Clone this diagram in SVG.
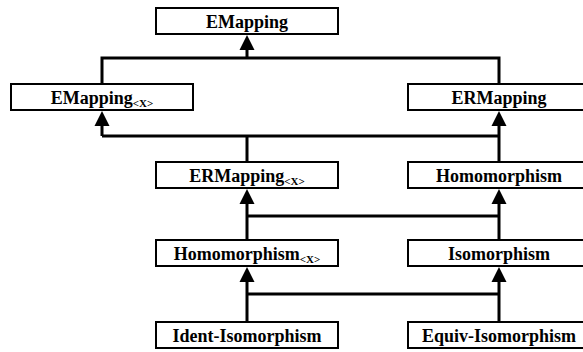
<svg xmlns="http://www.w3.org/2000/svg" width="583" height="352" viewBox="0 0 583 352">
<style>
.box{fill:#fff;stroke:#000;stroke-width:2}
.lbl{font-family:'Liberation Serif',serif;font-weight:700;font-size:18px;text-anchor:middle;fill:#000}
.sub{font-size:11px}
.ln{fill:none;stroke:#000;stroke-width:3}
.ah{fill:#000;stroke:none}
</style>
<rect width="583" height="352" fill="#fff"/>
<g id="connectors">
<path class="ln" d="M102 84 V58 H499 V84 M247 58 V49"/>
<polygon class="ah" points="247,35 239.5,50 254.5,50"/>
<path class="ln" d="M247 162 V136 M102 136 H499 M102 136 V124 M499 162 V124"/>
<polygon class="ah" points="102,111 94.5,126 109.5,126"/>
<polygon class="ah" points="499,111 491.5,126 506.5,126"/>
<path class="ln" d="M247 240 V204 M247 216 H499 M499 240 V204"/>
<polygon class="ah" points="247,189 239.5,204 254.5,204"/>
<polygon class="ah" points="499,189 491.5,204 506.5,204"/>
<path class="ln" d="M247 322 V282 M247 294 H499 M499 322 V282"/>
<polygon class="ah" points="247,267 239.5,282 254.5,282"/>
<polygon class="ah" points="499,267 491.5,282 506.5,282"/>
</g>
<g font-family="Liberation Serif, serif">
<g id="EMapping"><rect class="box" x="156" y="8" width="182" height="26"/><text class="lbl" x="247" y="28">EMapping</text></g>
<g id="EMappingX"><rect class="box" x="11" y="84" width="182" height="26"/><text class="lbl" x="102" y="104">EMapping<tspan class="sub" dy="3">&lt;X&gt;</tspan></text></g>
<g id="ERMapping"><rect class="box" x="408" y="84" width="182" height="26"/><text class="lbl" x="499" y="104">ERMapping</text></g>
<g id="ERMappingX"><rect class="box" x="156" y="162" width="182" height="26"/><text class="lbl" x="247" y="182">ERMapping<tspan class="sub" dy="3">&lt;X&gt;</tspan></text></g>
<g id="Homomorphism"><rect class="box" x="408" y="162" width="182" height="26"/><text class="lbl" x="499" y="182">Homomorphism</text></g>
<g id="HomomorphismX"><rect class="box" x="156" y="240" width="182" height="26"/><text class="lbl" x="247" y="260">Homomorphism<tspan class="sub" dy="3">&lt;X&gt;</tspan></text></g>
<g id="Isomorphism"><rect class="box" x="408" y="240" width="182" height="26"/><text class="lbl" x="499" y="260">Isomorphism</text></g>
<g id="IdentIsomorphism"><rect class="box" x="156" y="322" width="182" height="26"/><text class="lbl" x="247" y="342">Ident-Isomorphism</text></g>
<g id="EquivIsomorphism"><rect class="box" x="408" y="322" width="182" height="26"/><text class="lbl" x="499" y="342">Equiv-Isomorphism</text></g>
</g>
</svg>
